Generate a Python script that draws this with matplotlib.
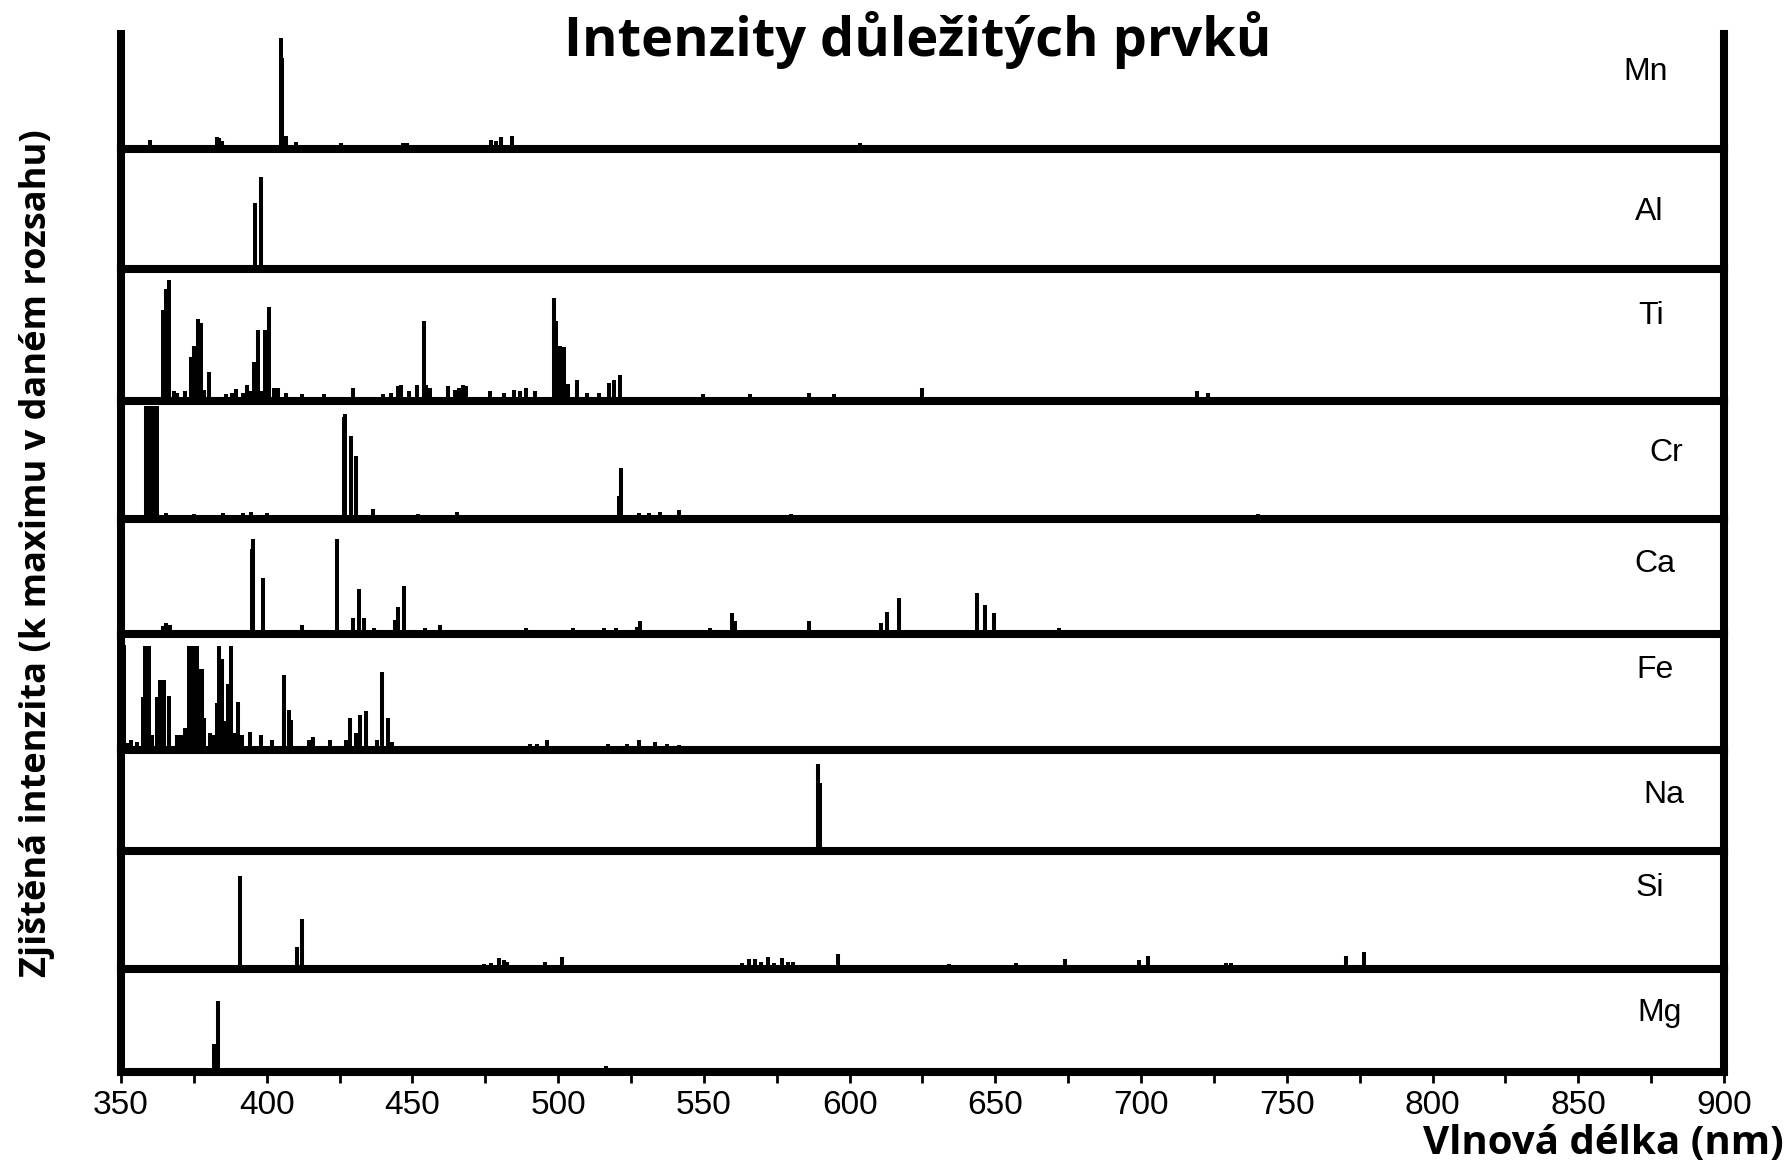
import matplotlib
matplotlib.use("Agg")
import matplotlib.pyplot as plt
from matplotlib.ticker import MultipleLocator

# ---------------- data ----------------
elements = ["Mn", "Al", "Ti", "Cr", "Ca", "Fe", "Na", "Si", "Mg"]

mn_nm = [359.8, 382.8, 383.7, 384.8, 405.0, 405.4, 406.7, 410.0, 425.4, 446.8, 448.0, 477.1, 478.5, 480.4, 484.0, 603.4]
mn_h = [0.05, 0.07, 0.06, 0.04, 0.96, 0.78, 0.08, 0.03, 0.02, 0.02, 0.02, 0.05, 0.04, 0.07, 0.08, 0.02]

al_nm = [396.0, 397.9]
al_h = [0.53, 0.76]

ti_nm = [364.4, 365.3, 366.6, 368.2, 369.3, 371.8, 373.9, 375.2, 376.5, 377.4, 378.5, 380.2,
         386.0, 388.2, 389.4, 392.0, 393.3, 394.3, 395.6, 396.9, 398.3, 399.5, 400.8, 402.5,
         403.8, 406.5, 412.0, 419.6, 429.7, 440.0, 442.5, 445.0, 446.2, 448.8, 451.5, 453.8,
         454.6, 456.0, 462.3, 464.5, 466.0, 467.2, 468.5, 476.5, 481.5, 485.0, 487.0, 488.9,
         492.0, 498.5, 499.4, 500.7, 502.0, 503.3, 506.6, 510.0, 514.0, 517.6, 519.1, 521.1,
         549.7, 565.8, 586.2, 594.6, 624.8, 719.1, 722.9]
ti_h = [0.68, 0.84, 0.91, 0.04, 0.03, 0.04, 0.31, 0.40, 0.61, 0.58, 0.05, 0.19,
        0.02, 0.03, 0.06, 0.03, 0.09, 0.04, 0.27, 0.52, 0.04, 0.52, 0.70, 0.07,
        0.07, 0.03, 0.02, 0.02, 0.07, 0.02, 0.03, 0.08, 0.09, 0.04, 0.09, 0.59,
        0.09, 0.07, 0.08, 0.05, 0.07, 0.09, 0.08, 0.04, 0.03, 0.05, 0.04, 0.07,
        0.04, 0.77, 0.59, 0.40, 0.39, 0.10, 0.13, 0.03, 0.03, 0.11, 0.13, 0.17,
        0.02, 0.02, 0.03, 0.02, 0.07, 0.04, 0.03]

cr_nm = [358.6, 359.4, 360.2, 361.0, 361.8, 362.5, 365.5, 375.0, 385.0, 392.0, 394.5, 400.0,
         426.6, 427.0, 428.9, 430.5, 436.3, 452.0, 465.2, 520.9, 521.4, 527.7, 531.0, 534.9,
         541.5, 580.0, 740.0]
cr_h = [0.96, 0.96, 0.96, 0.96, 0.96, 0.96, 0.02, 0.01, 0.02, 0.02, 0.03, 0.02,
        0.86, 0.89, 0.69, 0.52, 0.05, 0.01, 0.03, 0.17, 0.41, 0.02, 0.02, 0.03,
        0.04, 0.01, 0.01]

ca_nm = [350.6, 364.4, 365.5, 366.7, 395.0, 395.4, 398.6, 412.0, 424.0, 429.6, 431.6, 433.5,
         436.8, 443.9, 445.0, 447.0, 454.2, 459.5, 489.1, 505.2, 515.6, 519.8, 527.1, 528.1,
         552.0, 559.5, 560.7, 586.2, 610.9, 612.8, 616.8, 643.8, 646.6, 649.7, 671.7]
ca_h = [0.80, 0.04, 0.06, 0.05, 0.73, 0.82, 0.47, 0.05, 0.82, 0.11, 0.37, 0.11,
        0.02, 0.09, 0.21, 0.40, 0.02, 0.05, 0.02, 0.02, 0.02, 0.02, 0.03, 0.08,
        0.02, 0.15, 0.08, 0.08, 0.06, 0.16, 0.29, 0.33, 0.23, 0.15, 0.02]

fe_nm = [351.0, 352.5, 353.5, 355.5, 357.4, 358.3, 358.9, 359.6, 360.8, 362.4, 363.3, 364.0,
         364.8, 366.4, 369.3, 370.6, 371.9, 373.3, 373.8, 374.4, 374.9, 375.5, 376.1, 376.7,
         377.8, 378.6, 380.4, 381.5, 382.8, 383.5, 384.5, 385.7, 386.6, 387.7, 389.0, 390.0,
         391.6, 394.2, 398.2, 401.9, 405.8, 407.6, 408.4, 414.6, 416.0, 421.6, 427.1, 428.4,
         430.5, 432.1, 434.0, 438.0, 439.6, 441.6, 442.9, 490.2, 492.8, 496.1, 517.2, 523.7,
         527.7, 533.3, 537.5, 541.5]
fe_h = [0.90, 0.03, 0.05, 0.04, 0.44, 0.89, 0.89, 0.89, 0.10, 0.44, 0.59, 0.59,
        0.59, 0.45, 0.10, 0.10, 0.16, 0.89, 0.89, 0.89, 0.89, 0.89, 0.89, 0.69,
        0.69, 0.25, 0.12, 0.10, 0.38, 0.89, 0.78, 0.22, 0.55, 0.89, 0.12, 0.39,
        0.10, 0.13, 0.10, 0.05, 0.63, 0.32, 0.23, 0.05, 0.08, 0.05, 0.05, 0.25,
        0.12, 0.28, 0.31, 0.05, 0.66, 0.25, 0.04, 0.02, 0.02, 0.05, 0.02, 0.02,
        0.05, 0.04, 0.02, 0.01]

na_nm = [589.0, 589.7]
na_h = [0.86, 0.66]

si_nm = [390.7, 410.4, 412.0, 474.4, 477.0, 479.8, 481.5, 482.6, 495.5, 501.3, 563.2, 565.4,
         567.6, 569.5, 572.0, 574.0, 576.8, 579.0, 580.7, 596.0, 634.0, 657.2, 673.8, 699.4,
         702.3, 729.0, 730.7, 770.2, 776.5]
si_h = [0.78, 0.16, 0.40, 0.01, 0.02, 0.06, 0.04, 0.03, 0.03, 0.07, 0.02, 0.05,
        0.05, 0.03, 0.07, 0.02, 0.06, 0.03, 0.03, 0.10, 0.01, 0.02, 0.05, 0.04,
        0.08, 0.02, 0.02, 0.08, 0.11]

mg_nm = [382.0, 383.2, 516.5]
mg_h = [0.25, 0.68, 0.03]

spectra = [(mn_nm, mn_h), (al_nm, al_h), (ti_nm, ti_h), (cr_nm, cr_h), (ca_nm, ca_h),
           (fe_nm, fe_h), (na_nm, na_h), (si_nm, si_h), (mg_nm, mg_h)]

x_major = list(range(350, 901, 50))

title = "Intenzity důležitých prvků"
ylabel = "Zjištěná intenzita (k maximu v daném rozsahu)"
xlabel = "Vlnová délka (nm)"

# ---------------- layout (pixel geometry of the reference) ----------------
W, H = 1789, 1169
fig = plt.figure(figsize=(W / 100, H / 100), dpi=100)
edges = [34, 149, 269, 401, 519, 634, 750, 851, 969, 1072]   # panel boundaries, px from top
left_px, right_px = 121, 1724
label_pos = [(1646, 72), (1649, 212), (1651, 316), (1666, 453), (1655, 564),
             (1655, 670), (1664, 795), (1650, 888), (1660, 1013)]

lw_sp = 5.8
for i, (el, (nm, h)) in enumerate(zip(elements, spectra)):
    top, bot = edges[i], edges[i + 1]
    ax = fig.add_axes([left_px / W, 1 - bot / H, (right_px - left_px) / W, (bot - top) / H])
    base = -0.035
    ax.set_xlim(350, 900)
    ax.set_ylim(base, 1.0)
    ax.vlines(nm, base, h, colors="black", linewidth=2.9, capstyle="butt")
    ax.set_yticks([])
    ax.spines["top"].set_visible(False)
    for s in ("left", "right", "bottom"):
        ax.spines[s].set_linewidth(lw_sp)
        ax.spines[s].set_color("black")
        ax.spines[s].set_capstyle("projecting")
    ax.patch.set_alpha(0)
    if i < len(elements) - 1:
        ax.set_xticks([])
    else:
        ax.xaxis.set_minor_locator(MultipleLocator(25))
        ax.set_xticks(x_major)
        ax.set_xticklabels([str(v) for v in x_major], fontsize=24, family="Liberation Sans")
        ax.tick_params(axis="x", which="both", direction="out", length=8, width=2, pad=5)
    fx, fy = label_pos[i]
    fig.text(fx / W, 1 - fy / H, el, ha="center", va="center", fontsize=23,
             family="Liberation Sans")

fig.text(918 / W, 1 - 40 / H, title, ha="center", va="center", fontsize=39,
         fontweight="bold", family="Open Sans")
fig.text(37 / W, 1 - 553 / H, ylabel, ha="center", va="center", rotation=90, fontsize=26,
         fontweight="bold", family="Open Sans")
fig.text(1784 / W, 1 - 1144 / H, xlabel, ha="right", va="center", fontsize=29,
         fontweight="bold", family="Open Sans")

fig.savefig("out.png", dpi=100, facecolor="white")
